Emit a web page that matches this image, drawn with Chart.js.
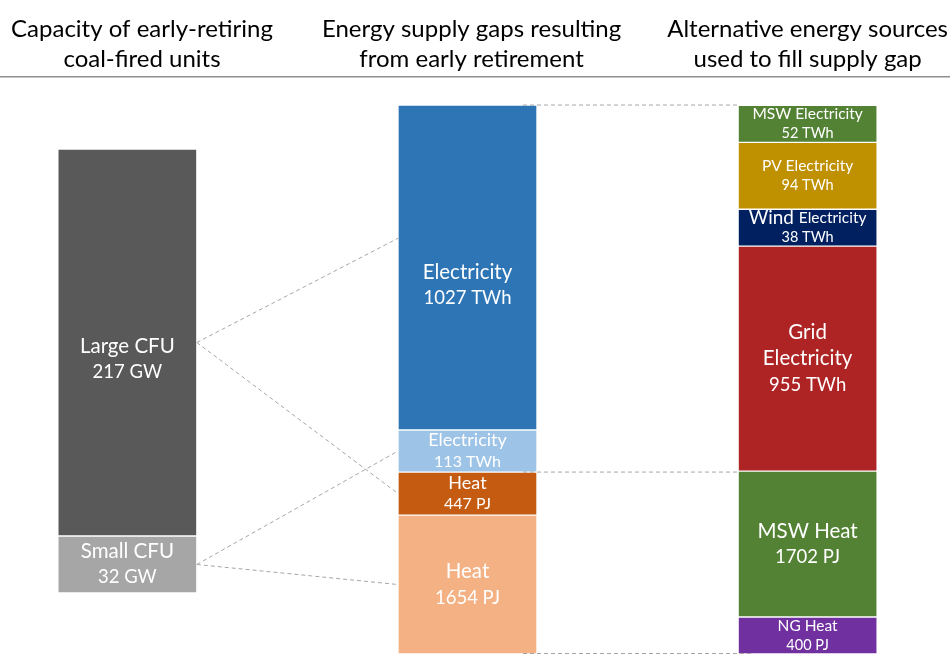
<!DOCTYPE html>
<html>
<head>
<meta charset="utf-8">
<script src="https://cdn.jsdelivr.net/npm/chart.js@4.4.1/dist/chart.umd.min.js"></script>
<style>
  html, body { margin: 0; padding: 0; background: #ffffff; }
  #wrap { width: 951px; height: 655px; position: relative; }
</style>
</head>
<body>
<div id="wrap"><canvas id="c"></canvas></div>
<script>
// ---------------- DATA ----------------
const columnTitles = [
  ["Capacity of early-retiring", "coal-fired units"],
  ["Energy supply gaps resulting", "from early retirement"],
  ["Alternative energy sources", "used to fill supply gap"]
];
const columnX = [0, 1, 2];

// Column 1: capacity of early-retiring coal-fired units (top -> bottom)
const capacityNames = [["Large CFU"], ["Small CFU"]];
const capacityGW = [217, 32];
const capacityColors = ["#595959", "#A6A6A6"];

// Column 2: energy supply gaps (top -> bottom)
const gapNames = [["Electricity"], ["Electricity"], ["Heat"], ["Heat"]];
const gapValues = [1027, 113, 447, 1654];
const gapUnits = ["TWh", "TWh", "PJ", "PJ"];
// drawn bar lengths, in TWh-equivalent
const gapBarTWhEq = [1020, 132, 135, 436];
const gapColors = ["#2E75B6", "#9DC3E6", "#C55A11", "#F4B183"];

// Column 3: alternative energy sources (top -> bottom)
const altNames = [["MSW Electricity"], ["PV Electricity"], ["Wind Electricity"], ["Grid", "Electricity"], ["MSW Heat"], ["NG Heat"]];
const altValues = [52, 94, 38, 955, 1702, 400];
const altUnits = ["TWh", "TWh", "TWh", "TWh", "PJ", "PJ"];
// drawn bar lengths, in TWh-equivalent
const altBarTWhEq = [116, 210, 116, 706, 458, 116];
const altColors = ["#548235", "#BF9000", "#002060", "#AE2424", "#548235", "#7030A0"];

// ---------------- STYLE ----------------
const FONT = 'Lato, "Open Sans", "Noto Sans", sans-serif';
const labelStyles = {
  big:   { name: 20.5, value: 18.5, lh: 26 },
  mid:   { name: 18,   value: 16,   lh: 21 },
  small: { name: 15.5, value: 14.5, lh: 19 }
};
const capacityStyle = ["big", "big"];
const gapStyle = ["big", "mid", "mid", "big"];
const altStyle = ["small", "small", "small", "big", "big", "small"];

function makeSeg(key, x, axis, barValue, color, nameLines, valueText, style, extra) {
  return Object.assign({
    segKey: key,
    label: nameLines.join(" "),
    data: [{ x: x, y: barValue }],
    backgroundColor: color,
    borderColor: "rgba(255,255,255,0.45)",
    borderWidth: 1,
    borderSkipped: false,
    yAxisID: axis,
    barThickness: 139,
    nameLines: nameLines,
    valueText: valueText,
    labelStyle: style,
    labelShift: 0
  }, extra || {});
}

const datasets = [];
// bottom -> top stacking order
for (let i = capacityGW.length - 1; i >= 0; i--) {
  datasets.push(makeSeg("cap" + i, columnX[0], "yGW", capacityGW[i], capacityColors[i],
    capacityNames[i], capacityGW[i] + " GW", capacityStyle[i], i === 0 ? { labelShift: 17 } : {}));
}
for (let i = gapValues.length - 1; i >= 0; i--) {
  datasets.push(makeSeg("gap" + i, columnX[1], "y", gapBarTWhEq[i], gapColors[i],
    gapNames[i], gapValues[i] + " " + gapUnits[i], gapStyle[i], i === 0 ? { labelShift: 18 } : {}));
}
for (let i = altValues.length - 1; i >= 0; i--) {
  datasets.push(makeSeg("alt" + i, columnX[2], "y", altBarTWhEq[i], altColors[i],
    altNames[i], altValues[i] + " " + altUnits[i], altStyle[i], i === 2 ? { leadScale: 1.22 } : {}));
}

// ---------------- PLUGINS ----------------
function findEl(chart, key) {
  const idx = chart.data.datasets.findIndex(d => d.segKey === key);
  const el = chart.getDatasetMeta(idx).data[0];
  return el.getProps(["x", "y", "base", "width"], true);
}

const connectorPlugin = {
  id: "connectors",
  afterDatasetsDraw(chart) {
    const ctx = chart.ctx;
    ctx.save();
    ctx.strokeStyle = "#A6A6A6";
    ctx.lineWidth = 1;
    ctx.setLineDash([4, 3]);
    const line = (x1, y1, x2, y2) => { ctx.beginPath(); ctx.moveTo(x1, y1); ctx.lineTo(x2, y2); ctx.stroke(); };
    const big = findEl(chart, "cap0"), small = findEl(chart, "cap1");
    const right = (p) => p.x + p.width / 2, left = (p) => p.x - p.width / 2;
    const top = (p) => Math.min(p.y, p.base), bot = (p) => Math.max(p.y, p.base);
    const mid = (p) => (p.y + p.base) / 2;
    const g0 = findEl(chart, "gap0"), g1 = findEl(chart, "gap1"), g2 = findEl(chart, "gap2"), g3 = findEl(chart, "gap3");
    line(right(big), mid(big), left(g0), top(g0) + 0.41 * (bot(g0) - top(g0)));
    line(right(big), mid(big), left(g2), mid(g2));
    line(right(small), mid(small), left(g1), mid(g1));
    line(right(small), mid(small), left(g3), mid(g3));
    const a0 = findEl(chart, "alt0");
    const xs = right(g0) - 14, xe = left(a0);
    line(xs, top(g0), xe, top(g0));
    line(xs, bot(g1), xe, bot(g1));
    line(xs, bot(g3) - 0.5, xe + 14, bot(g3) - 0.5);
    ctx.restore();
  }
};

const labelPlugin = {
  id: "segLabels",
  afterDatasetsDraw(chart) {
    const ctx = chart.ctx;
    ctx.save();
    ctx.fillStyle = "#ffffff";
    ctx.textAlign = "center";
    ctx.textBaseline = "middle";
    chart.data.datasets.forEach((ds, i) => {
      const p = chart.getDatasetMeta(i).data[0].getProps(["x", "y", "base"], true);
      const st = labelStyles[ds.labelStyle];
      const lines = ds.nameLines.map(t => ({ t, size: st.name })).concat([{ t: ds.valueText, size: st.value }]);
      const cy = (p.y + p.base) / 2 + ds.labelShift;
      const y0 = cy - (lines.length - 1) * st.lh / 2;
      lines.forEach((ln, j) => {
        const y = y0 + j * st.lh;
        if (j === 0 && ds.leadScale) {
          const sp = ln.t.indexOf(" ");
          const a = ln.t.slice(0, sp + 1), b = ln.t.slice(sp + 1);
          const fa = (ln.size * ds.leadScale) + "px " + FONT, fb = ln.size + "px " + FONT;
          ctx.font = fa; const wa = ctx.measureText(a).width;
          ctx.font = fb; const wb = ctx.measureText(b).width;
          let x = p.x - (wa + wb) / 2;
          ctx.textAlign = "left";
          ctx.font = fa; ctx.fillText(a, x, y);
          ctx.font = fb; ctx.fillText(b, x + wa, y);
          ctx.textAlign = "center";
        } else {
          ctx.font = ln.size + "px " + FONT;
          ctx.fillText(ln.t, p.x, y);
        }
      });
    });
    ctx.restore();
  }
};

// ---------------- CHART ----------------
const titleTickPositions = [0.043, 1.012, 2.0];

new Chart(document.getElementById("c"), {
  type: "bar",
  data: { datasets },
  options: {
    responsive: true,
    maintainAspectRatio: false,
    animation: false,
    events: [],
    layout: { padding: { top: 11, bottom: 1, left: 0, right: 0 }, autoPadding: false },
    plugins: { legend: { display: false }, tooltip: { enabled: false } },
    scales: {
      x: {
        type: "linear",
        position: "top",
        stacked: true,
        offset: false,
        min: -0.3744,
        max: 2.4185,
        grid: { display: false, drawTicks: false, offset: false },
        border: { display: true, color: "#8F8F8F", width: 1.5 },
        afterBuildTicks: (axis) => { axis.ticks = titleTickPositions.map(v => ({ value: v })); },
        ticks: {
          autoSkip: false,
          maxRotation: 0,
          minRotation: 0,
          padding: 3,
          color: "#000000",
          font: { family: FONT, size: 24, lineHeight: 1.25 },
          callback: (value, index) => columnTitles[index]
        }
      },
      y: { type: "linear", display: false, stacked: true, min: 0, max: 1811 },
      yGW: { type: "linear", display: false, stacked: true, min: -34.2, max: 289.4 }
    }
  },
  plugins: [connectorPlugin, labelPlugin]
});
</script>
</body>
</html>
